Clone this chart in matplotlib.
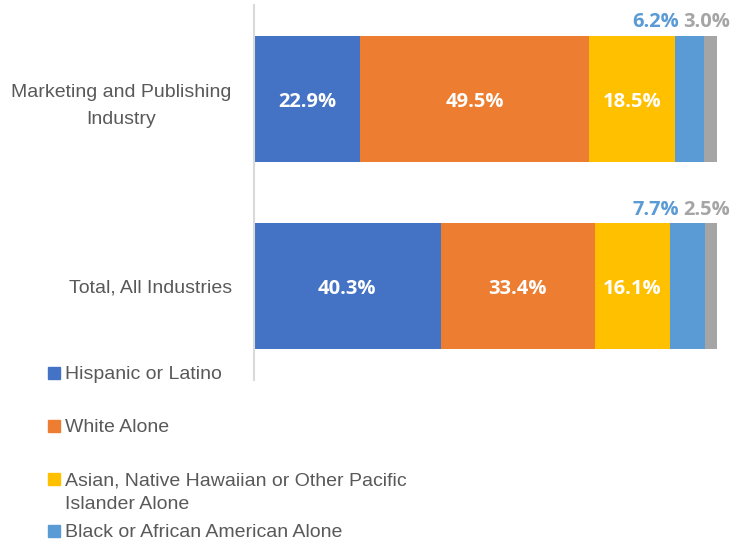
import matplotlib.pyplot as plt
from matplotlib.patches import Rectangle

categories = ["Marketing and Publishing\nIndustry", "Total, All Industries"]
series = [
    "Hispanic or Latino",
    "White Alone",
    "Asian, Native Hawaiian or Other Pacific\nIslander Alone",
    "Black or African American Alone",
    "Other",
]
values = [
    [22.9, 40.3],
    [49.5, 33.4],
    [18.5, 16.1],
    [6.2, 7.7],
    [3.0, 2.5],
]
colors = ["#4472C4", "#ED7D31", "#FFC000", "#5B9BD5", "#A5A5A5"]
inside = [True, True, True, False, False]

gray_txt = "#595959"

fig = plt.figure(figsize=(7.4, 5.44), dpi=100)
ax = fig.add_axes([254 / 740, 1 - 380 / 544, 463 / 740, 375 / 544])

y = list(range(len(categories)))
left = [0.0] * len(categories)
bar_h = 0.672
for s, vals, c, ins in zip(series, values, colors, inside):
    bars = ax.barh(y, vals, left=left, height=bar_h, color=c, label=s)
    if ins:
        # small nudge down so the label sits like the original
        for b, v in zip(bars, vals):
            ax.annotate(f"{v:.1f}%", (b.get_x() + b.get_width() / 2, b.get_y() + b.get_height() / 2),
                        xytext=(0, -2), textcoords="offset points", ha="center", va="center",
                        color="white", fontsize=14.5, fontweight="bold", family="Open Sans")
    left = [l + v for l, v in zip(left, vals)]

# outside labels for the two small segments, above the bar end
for i in range(len(categories)):
    top = y[i] - bar_h / 2
    gray_x = left[i] - values[4][i] / 2
    ax.annotate(f"{values[4][i]:.1f}%", (gray_x, top), xytext=(-3, 6), textcoords="offset points",
                ha="center", va="baseline", color=colors[4], fontsize=14.5,
                fontweight="bold", family="Open Sans", annotation_clip=False)
    ax.annotate(f"{values[3][i]:.1f}%", (gray_x, top), xytext=(-23, 6), textcoords="offset points",
                ha="right", va="baseline", color=colors[3], fontsize=14.5,
                fontweight="bold", family="Open Sans", annotation_clip=False)

ax.set_xlim(0, 100)
ax.set_ylim(1.5, -0.5)
ax.set_xticks([])
ax.set_yticks(y)
ax.set_yticklabels(categories, fontsize=14, color=gray_txt, family="Liberation Sans",
                   linespacing=1.75)
ax.tick_params(axis="y", length=0, pad=16)
for lbl in ax.get_yticklabels():
    lbl.set_multialignment("center")
for side in ["top", "right", "bottom"]:
    ax.spines[side].set_visible(False)
ax.spines["left"].set_color("#D9D9D9")
ax.spines["left"].set_linewidth(1.5)

# legend drawn by hand (marker sits on first line of wrapped entries);
# the last entry falls below the bottom edge in the original, so it is left out
leg_y = [373, 426, 479, 531]
for s, c, ly in zip(series, colors, leg_y):
    fig.patches.append(Rectangle((48 / 740, 1 - (ly + 6) / 544), 12 / 740, 12 / 544,
                                 transform=fig.transFigure, color=c))
    fig.text(65 / 740, 1 - (ly - 7) / 544, s, ha="left", va="top", fontsize=14,
             color=gray_txt, family="Liberation Sans", linespacing=1.55)

fig.savefig("out.png", dpi=100)
